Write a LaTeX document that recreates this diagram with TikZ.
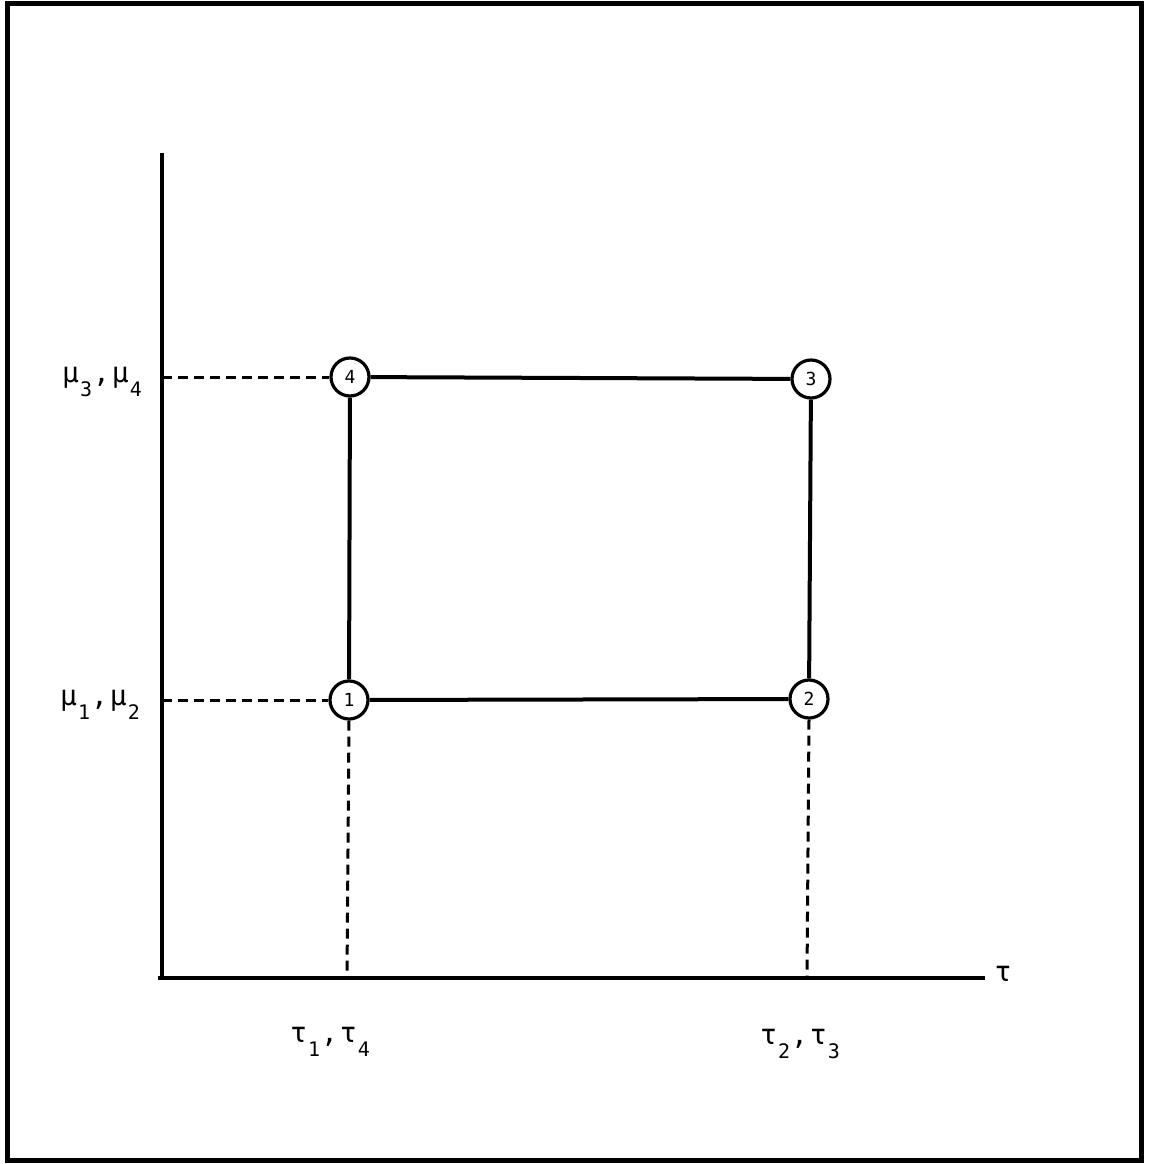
\documentclass[tikz,border=0pt]{standalone}
\usepackage{fontspec}
\setmonofont{DejaVu Sans Mono}
\newcommand{\gsub}[2]{#1\kern1pt\raisebox{-0.9ex}{\fontsize{20}{22}\selectfont #2}}
\begin{document}
\begin{tikzpicture}[x=1pt,y=-1pt,
  ax/.style={line width=4.5pt},
  solidl/.style={line width=4pt},
  dashl/.style={line width=3pt, dash pattern=on 10pt off 6pt},
  pt/.style={circle, draw, line width=3.2pt, minimum size=38pt, inner sep=0pt, font=\fontsize{18}{20}\selectfont\ttfamily},
  lab/.style={font=\fontsize{28}{32}\selectfont\ttfamily}]
\useasboundingbox (0,0) rectangle (1148,1164);
\draw[line width=5pt] (7,4) rectangle (1141,1160);
\coordinate (o) at (162,978);
\coordinate (ytop) at (162,153);
\coordinate (xend) at (985,978);
\coordinate (ya) at (162,377);
\coordinate (yb) at (162,700);
\coordinate (xa) at (347,978);
\coordinate (xb) at (807,978);
\draw[ax] (ytop) -- (162,980) ;
\draw[ax] (158,978) -- (xend);
\node[pt] (n4) at (350,377) {4};
\node[pt] (n3) at (811,379) {3};
\node[pt] (n1) at (349,700) {1};
\node[pt] (n2) at (809,699) {2};
\draw[solidl] (n4) -- (n3);
\draw[solidl] (n1) -- (n2);
\draw[solidl] (n4) -- (n1);
\draw[solidl] (n3) -- (n2);
\draw[dashl] (ya) -- (n4);
\draw[dashl] (yb) -- (n1);
\draw[dashl] (n1.south) -- (xa);
\draw[dashl] (n2.south) -- (xb);
\node[lab] (tau) at (1003,974) {τ};
\node[lab] (m34) at (102,382) {\gsub{μ}{3}\kern1pt,\kern2pt\gsub{μ}{4}};
\node[lab] (m12) at (100,705) {\gsub{μ}{1}\kern1pt,\kern2pt\gsub{μ}{2}};
\node[lab] (t14) at (330,1042) {\gsub{τ}{1}\kern1pt,\kern2pt\gsub{τ}{4}};
\node[lab] (t23) at (800,1044) {\gsub{τ}{2}\kern1pt,\kern2pt\gsub{τ}{3}};
\end{tikzpicture}
\end{document}
